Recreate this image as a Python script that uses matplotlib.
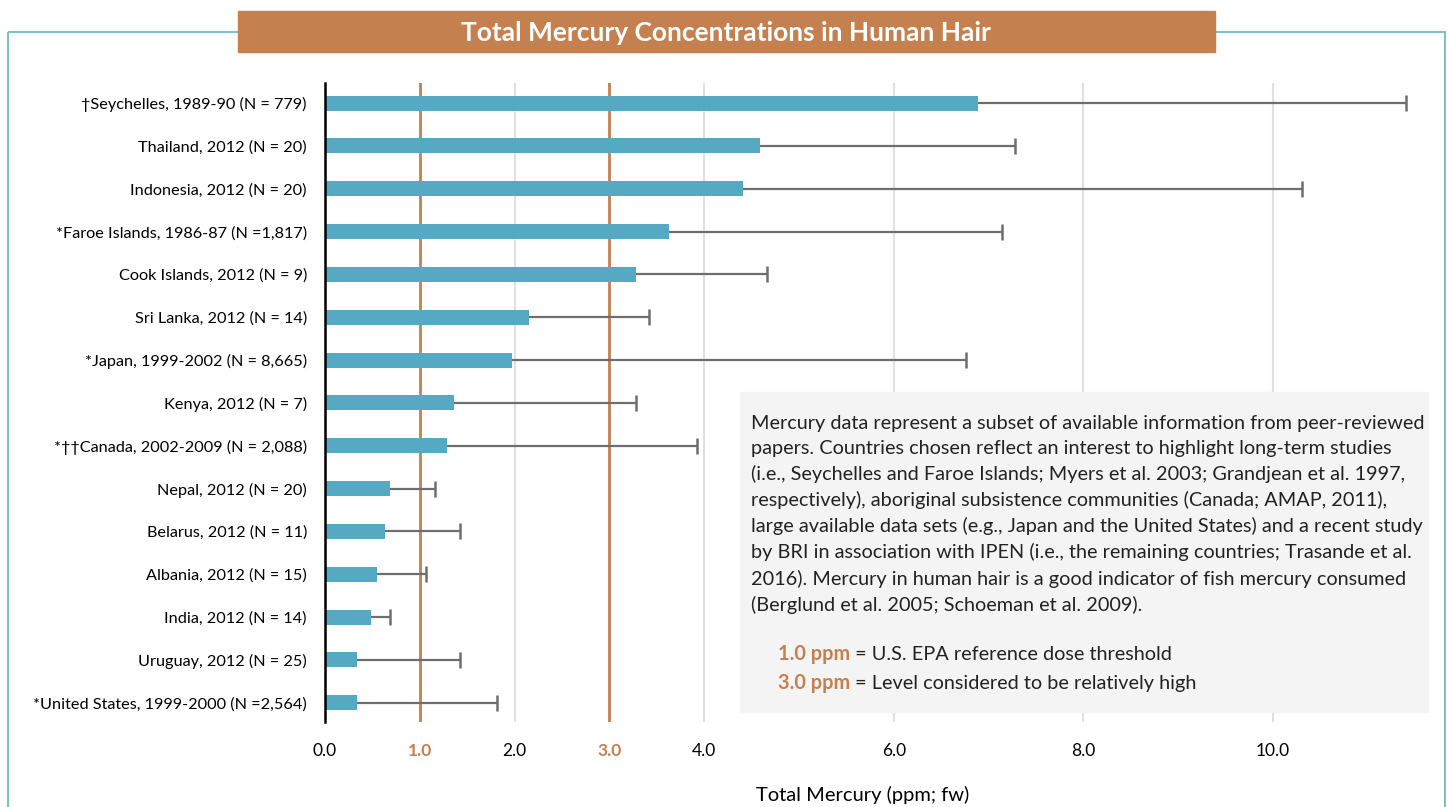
import matplotlib.pyplot as plt
from matplotlib.patches import Rectangle

W, H = 1448, 807

labels = [
    '\u2020Seychelles, 1989-90 (N = 779)',
    'Thailand, 2012 (N = 20)',
    'Indonesia, 2012 (N = 20)',
    '*Faroe Islands, 1986-87 (N =1,817)',
    'Cook Islands, 2012 (N = 9)',
    'Sri Lanka, 2012 (N = 14)',
    '*Japan, 1999-2002 (N = 8,665)',
    'Kenya, 2012 (N = 7)',
    '*\u2020\u2020Canada, 2002-2009 (N = 2,088)',
    'Nepal, 2012 (N = 20)',
    'Belarus, 2012 (N = 11)',
    'Albania, 2012 (N = 15)',
    'India, 2012 (N = 14)',
    'Uruguay, 2012 (N = 25)',
    '*United States, 1999-2000 (N =2,564)',
]
means = [6.89, 4.59, 4.41, 3.63, 3.28, 2.15, 1.97, 1.36, 1.29, 0.69, 0.63, 0.55, 0.49, 0.34, 0.34]
upper = [11.40, 7.28, 10.31, 7.14, 4.66, 3.42, 6.76, 3.28, 3.93, 1.16, 1.42, 1.07, 0.69, 1.42, 1.81]
xticks = [0, 1, 2, 3, 4, 6, 8, 10]
grid_x = [2, 4, 6, 8, 10]
thresholds = [1.0, 3.0]

bar_col = '#55a9c3'
orange = '#c4804f'
frame_col = '#7fbfd0'
font = ['Lato', 'DejaVu Sans']
plt.rcParams['font.family'] = font

fig = plt.figure(figsize=(W / 100, H / 100), dpi=100)

def px(x0, y0, x1, y1):
    return [x0 / W, 1 - y1 / H, (x1 - x0) / W, (y1 - y0) / H]

# outer frame and title banner
bg = fig.add_axes([0, 0, 1, 1])
bg.set_xlim(0, W)
bg.set_ylim(H, 0)
bg.axis('off')
bg.add_patch(Rectangle((8, 32), 1437, 800, fill=False, ec=frame_col, lw=1.5))
bg.add_patch(Rectangle((238, 11), 977, 41, color=orange, zorder=3))
bg.text(726, 33, 'Total Mercury Concentrations in Human Hair', color='white',
        fontsize=19, fontweight='bold', ha='center', va='center', zorder=4)

ax = fig.add_axes(px(325, 83, 1415, 722))
y = list(range(len(labels)))
ax.barh(y, means, height=0.35, color=bar_col, zorder=3)
ax.hlines(y, means, upper, color='#6e6e6e', lw=1.6, zorder=4)
ax.scatter(upper, y, marker='|', s=130, color='#6e6e6e', linewidths=1.8, zorder=4)
for g in grid_x:
    ax.axvline(g, color='#e0e0e0', lw=1.5, zorder=1)
for t in thresholds:
    ax.axvline(t, color=orange, lw=2, zorder=2)

ax.set_xlim(0, 11.5)
ax.set_ylim(14.45, -0.47)
ax.set_yticks(y)
ax.set_yticklabels(labels, fontsize=11.7)
ax.set_xticks(xticks)
ax.set_xticklabels([f'{v:.1f}' for v in xticks], fontsize=12.5)
for lab, v in zip(ax.get_xticklabels(), xticks):
    if v in thresholds:
        lab.set_color(orange)
        lab.set_fontweight('bold')
ax.tick_params(axis='both', length=0)
ax.tick_params(axis='x', pad=15)
ax.tick_params(axis='y', pad=13)
for s in ['top', 'right', 'bottom']:
    ax.spines[s].set_visible(False)
ax.spines['left'].set_linewidth(1.8)
ax.spines['left'].set_zorder(5)
ax.set_xlabel('Total Mercury (ppm; fw)', fontsize=14.5)
ax.xaxis.set_label_coords((863 - 325) / (1415 - 325), -(795 - 722) / (722 - 83))
ax.xaxis.label.set_va('center')

# note box, on its own overlay so it sits above the bars axes
top = fig.add_axes([0, 0, 1, 1])
top.set_xlim(0, W)
top.set_ylim(H, 0)
top.axis('off')
note = ("Mercury data represent a subset of available information from peer-reviewed\n"
        "papers. Countries chosen reflect an interest to highlight long-term studies\n"
        "(i.e., Seychelles and Faroe Islands; Myers et al. 2003; Grandjean et al. 1997,\n"
        "respectively), aboriginal subsistence communities (Canada; AMAP, 2011),\n"
        "large available data sets (e.g., Japan and the United States) and a recent study\n"
        "by BRI in association with IPEN (i.e., the remaining countries; Trasande et al.\n"
        "2016). Mercury in human hair is a good indicator of fish mercury consumed\n"
        "(Berglund et al. 2005; Schoeman et al. 2009).")
top.add_patch(Rectangle((740, 392), 688, 320, color='#f4f4f4'))
top.text(751, 415, note, fontsize=14.3, va='top', ha='left', linespacing=1.54, color='#222222')
legend_rows = [('1.0 ppm', ' = U.S. EPA reference dose threshold', 654),
               ('3.0 ppm', ' = Level considered to be relatively high', 683)]
fig.canvas.draw()
for key, desc, yy in legend_rows:
    t = top.text(778, yy, key, fontsize=14.3, fontweight='bold', color=orange,
                 va='center', ha='left')
    bb = t.get_window_extent(renderer=fig.canvas.get_renderer())
    top.text(778 + bb.width, yy, desc, fontsize=14.3, color='#222222',
             va='center', ha='left')

fig.savefig('out.png', dpi=100)
